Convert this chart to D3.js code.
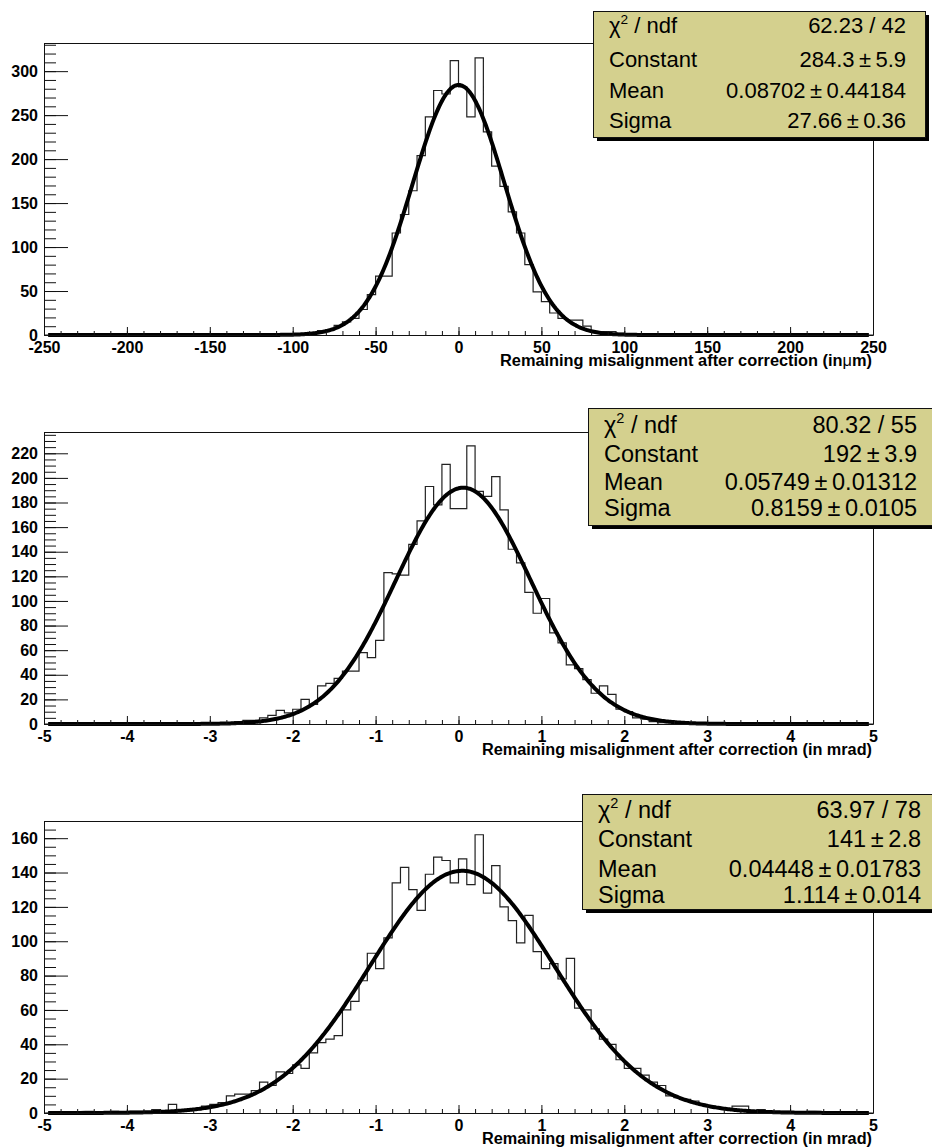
<!DOCTYPE html>
<html>
<head>
<meta charset="utf-8">
<script src="https://cdn.jsdelivr.net/npm/d3@7"></script>
<style>
  body { margin: 0; background: #fff; }
  text { font-family: "Liberation Sans", Arial, Helvetica, sans-serif; }
</style>
</head>
<body>
<svg id="chart" width="932" height="1148"></svg>
<script>

/************************************************************************************************************/
// data (counts per bin, starting at firstBin)

var xRange1 = [-250, 250], binWidth1 = 5, firstBin1 = -95;
var counts1 = [1, 2, 5, 6, 11, 15, 19, 29, 46, 67, 67, 116, 137, 164, 204, 248, 278, 274, 312, 282,
  248, 315, 231, 192, 169, 140, 116, 80, 49, 38, 25, 19, 17, 17, 10, 4, 4, 4, 2, 1];
var fitPar1 = [284.3, 0.08702, 27.66];
var yMax1 = 332;
var xTicks1 = [-250, -200, -150, -100, -50, 0, 50, 100, 150, 200, 250];
var yTicks1 = [0, 50, 100, 150, 200, 250, 300];
var statValues1 = ["62.23 / 42", "284.3\u2009\u00b1\u20095.9", "0.08702\u2009\u00b1\u20090.44184", "27.66\u2009\u00b1\u20090.36"];

var xRange2 = [-5, 5], binWidth2 = 0.1, firstBin2 = -3.4;
var counts2 = [1, 0, 1, 0, 1, 0, 1, 2, 3, 3, 5, 7, 11, 9, 12, 20, 16, 31, 33, 37, 43, 43, 58, 54, 68,
  123, 122, 121, 146, 165, 193, 178, 211, 175, 175, 226, 189, 185, 201, 174, 142, 131, 107, 90,
  102, 74, 66, 48, 45, 36, 25, 31, 24, 12, 10, 5, 4, 2, 1, 1, 0, 1];
var fitPar2 = [192, 0.05749, 0.8159];
var yMax2 = 237.3;
var xTicks2 = [-5, -4, -3, -2, -1, 0, 1, 2, 3, 4, 5];
var yTicks2 = [0, 20, 40, 60, 80, 100, 120, 140, 160, 180, 200, 220];
var statValues2 = ["80.32 / 55", "192\u2009\u00b1\u20093.9", "0.05749\u2009\u00b1\u20090.01312", "0.8159\u2009\u00b1\u20090.0105"];

var xRange3 = [-5, 5], binWidth3 = 0.1, firstBin3 = -4.5;
var counts3 = [1, 0, 0, 1, 0, 1, 1, 0, 2, 1, 5, 1, 2, 2, 4, 5, 6, 10, 11, 11, 13, 18, 16, 24, 23,
  28, 26, 35, 41, 43, 45, 60, 65, 77, 93, 84, 102, 134, 143, 130, 118, 139, 149, 147, 134,
  148, 133, 162, 128, 144, 120, 112, 99, 115, 94, 84, 87, 78, 90, 61, 60, 49, 43, 40, 31,
  26, 26, 22, 18, 16, 10, 9, 8, 7, 5, 4, 3, 2, 4, 4, 1, 2, 1, 0, 1, 0, 0, 1];
var fitPar3 = [141, 0.04448, 1.114];
var yMax3 = 170;
var xTicks3 = [-5, -4, -3, -2, -1, 0, 1, 2, 3, 4, 5];
var yTicks3 = [0, 20, 40, 60, 80, 100, 120, 140, 160];
var statValues3 = ["63.97 / 78", "141\u2009\u00b1\u20092.8", "0.04448\u2009\u00b1\u20090.01783", "1.114\u2009\u00b1\u20090.014"];

var statNames = ["/ ndf", "Constant", "Mean", "Sigma"];


/************************************************************************************************************/

var svg = d3.select("#chart");
var margin = {left: 44, right: 59};
var plotHeight = 292;

var panels = [
  {top: 43, xRange: xRange1, bw: binWidth1, first: firstBin1, counts: counts1, fit: fitPar1, yMax: yMax1,
    xTicks: xTicks1, yTicks: yTicks1, xMinor: 10, yMinor: 10, unit: "\u03bc", unitTail: "m)", values: statValues1,
    box: {x: 593, y: 11, w: 332, h: 126, font: 22, labelX: 609, valueX: 906, rows: [33, 67, 98, 128]}},
  {top: 432, xRange: xRange2, bw: binWidth2, first: firstBin2, counts: counts2, fit: fitPar2, yMax: yMax2,
    xTicks: xTicks2, yTicks: yTicks2, xMinor: 0.2, yMinor: 5, unit: null, unitTail: " mrad)", values: statValues2,
    box: {x: 588, y: 408, w: 350, h: 117, font: 23.5, labelX: 604, valueX: 917, rows: [433, 462, 490, 516]}},
  {top: 821, xRange: xRange3, bw: binWidth3, first: firstBin3, counts: counts3, fit: fitPar3, yMax: yMax3,
    xTicks: xTicks3, yTicks: yTicks3, xMinor: 0.2, yMinor: 5, unit: null, unitTail: " mrad)", values: statValues3,
    box: {x: 582, y: 794, w: 356, h: 115, font: 23.5, labelX: 598, valueX: 921, rows: [818, 847, 877, 903]}}
];

panels.forEach(function (p, i) {
  drawPanel(p, i);
});


/************************************************************************************************************/

function drawPanel(p, idx) {

  var width = 932 - margin.left - margin.right;

  var x = d3.scaleLinear().domain(p.xRange).range([margin.left, margin.left + width]);
  var y = d3.scaleLinear().domain([0, p.yMax]).range([p.top + plotHeight, p.top]);

  var g = svg.append("g").classed("panel", true);

  //clip horizontally only, the fit line must stay visible on the baseline
  g.append("clipPath").attr("id", "clip" + idx)
    .append("rect").attr("x", margin.left).attr("y", p.top - 10)
    .attr("width", width).attr("height", plotHeight + 20);

  //histogram outline, one step per bin
  var steps = [[p.xRange[0], 0]];
  p.counts.forEach(function (c, k) {
    var lo = p.first + k * p.bw;
    steps.push([lo, c]);
    steps.push([lo + p.bw, c]);
  });
  steps.push([p.xRange[1], 0]);

  var stepLine = d3.line()
    .x(function (d) { return x(d[0]); })
    .y(function (d) { return y(d[1]); });

  g.append("path").datum(steps)
    .attr("clip-path", "url(#clip" + idx + ")")
    .attr("d", stepLine)
    .attr("fill", "none").attr("stroke", "#222").attr("stroke-width", 1.2);

  //gaussian fit function with the parameters of the stat box
  var lo = p.xRange[0] + p.bw / 2, hi = p.xRange[1] - p.bw / 2;
  var fitPts = d3.range(601).map(function (i) {
    var v = lo + i * (hi - lo) / 600;
    var t = (v - p.fit[1]) / p.fit[2];
    return [v, p.fit[0] * Math.exp(-0.5 * t * t)];
  });

  g.append("path").datum(fitPts)
    .attr("clip-path", "url(#clip" + idx + ")")
    .attr("d", stepLine)
    .attr("fill", "none").attr("stroke", "#000").attr("stroke-width", 4)
    .attr("stroke-linejoin", "round");

  //frame top and right
  g.append("line").attr("x1", margin.left).attr("x2", margin.left + width)
    .attr("y1", p.top + 0.5).attr("y2", p.top + 0.5).attr("stroke", "#111");
  g.append("line").attr("x1", margin.left + width + 0.5).attr("x2", margin.left + width + 0.5)
    .attr("y1", p.top).attr("y2", p.top + plotHeight).attr("stroke", "#111");

  //axes, ticks pointing inside like ROOT
  var noLabel = function () { return ""; };
  var plain = function (d) { return String(d); };

  var yMinorTicks = d3.range(0, p.yMax, p.yMinor);
  var xMinorTicks = d3.range(p.xRange[0], p.xRange[1] + p.xMinor / 2, p.xMinor);

  g.append("g").attr("transform", "translate(" + margin.left + ",0)")
    .call(d3.axisLeft(y).tickValues(yMinorTicks).tickSize(-12).tickSizeOuter(0).tickFormat(noLabel));
  var yAxis = g.append("g").attr("transform", "translate(" + margin.left + ",0)")
    .call(d3.axisLeft(y).tickValues(p.yTicks).tickSize(-24).tickSizeOuter(0).tickPadding(6).tickFormat(plain));

  g.append("g").attr("transform", "translate(0," + (p.top + plotHeight) + ")")
    .call(d3.axisBottom(x).tickValues(xMinorTicks).tickSize(-4).tickSizeOuter(0).tickFormat(noLabel));
  var xAxis = g.append("g").attr("transform", "translate(0," + (p.top + plotHeight) + ")")
    .call(d3.axisBottom(x).tickValues(p.xTicks).tickSize(-8).tickSizeOuter(0).tickPadding(7).tickFormat(plain));

  g.selectAll(".domain").attr("stroke", "#111");
  g.selectAll(".tick line").attr("stroke", "#111");

  [xAxis, yAxis].forEach(function (a) {
    a.attr("font-family", null).attr("font-size", null);
    a.selectAll("text").attr("font-size", "16px").attr("font-weight", "bold").attr("fill", "#000");
  });

  //axis title, right aligned at the end of the axis
  var title = g.append("text")
    .attr("x", margin.left + width - 1).attr("y", p.top + plotHeight + 31)
    .attr("text-anchor", "end").attr("font-size", "16px").attr("font-weight", "bold")
    .attr("textLength", p.unit ? 372 : 390).attr("lengthAdjust", "spacingAndGlyphs");
  title.append("tspan").text("Remaining misalignment after correction (in");
  if (p.unit) {
    title.append("tspan").attr("font-weight", "normal").text(p.unit);
  }
  title.append("tspan").text(p.unitTail);

  drawStatBox(g, p);
}


/************************************************************************************************************/

function drawStatBox(g, p) {

  var b = p.box;
  var box = g.append("g").classed("stats", true);

  box.append("rect").attr("x", b.x + 4).attr("y", b.y + 4).attr("width", b.w).attr("height", b.h)
    .attr("fill", "#000");
  box.append("rect").attr("x", b.x + 0.5).attr("y", b.y + 0.5).attr("width", b.w).attr("height", b.h)
    .attr("fill", "#d4d08e").attr("stroke", "#111").attr("stroke-width", 1);

  statNames.forEach(function (name, i) {

    var label = box.append("text").attr("x", b.labelX).attr("y", b.rows[i])
      .attr("font-size", b.font + "px").attr("fill", "#000");

    if (i === 0) {
      //chi square with a raised 2
      label.append("tspan").text("\u03c7");
      label.append("tspan").attr("dy", -b.font * 0.42).attr("font-size", (b.font * 0.62) + "px").text("2");
      label.append("tspan").attr("dy", b.font * 0.42).text(" " + name);
    } else {
      label.text(name);
    }

    box.append("text").attr("x", b.valueX).attr("y", b.rows[i])
      .attr("text-anchor", "end").attr("font-size", b.font + "px").attr("fill", "#000")
      .text(p.values[i]);
  });
}

</script>
</body>
</html>
